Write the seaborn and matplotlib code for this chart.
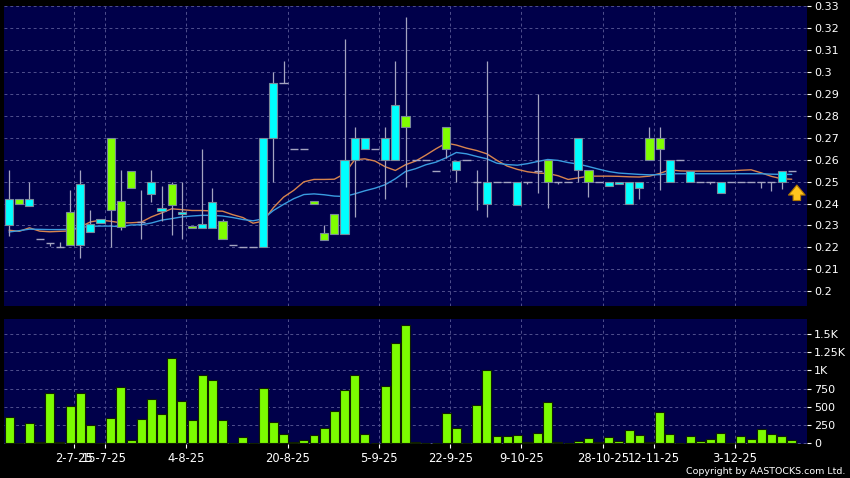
import numpy as np
import matplotlib
matplotlib.use("Agg")
import matplotlib.pyplot as plt
import seaborn as sns

# ---- values (one entry per trading session) ----
opens = [0.230, 0.242, 0.239, 0.224, 0.222, 0.220, 0.236, 0.221, 0.227, 0.231,
         0.270, 0.241, 0.255, 0.2315, 0.2442, 0.2368, 0.2488, 0.235, 0.2298, 0.229,
         0.229, 0.232, 0.221, 0.220, 0.220, 0.220, 0.270, 0.295, 0.265, 0.265,
         0.2412, 0.2267, 0.2351, 0.226, 0.260, 0.265, 0.265, 0.260, 0.260, 0.280,
         0.260, 0.260, 0.255, 0.275, 0.2552, 0.260, 0.250, 0.240, 0.250, 0.250,
         0.2394, 0.250, 0.255, 0.260, 0.250, 0.250, 0.2552, 0.2552, 0.250, 0.2478,
         0.2488, 0.240, 0.247, 0.270, 0.270, 0.250, 0.260, 0.250, 0.250, 0.250,
         0.245, 0.250, 0.250, 0.250, 0.250, 0.250, 0.250, 0.255]
closes = [0.242, 0.240, 0.242, 0.224, 0.222, 0.220, 0.221, 0.249, 0.2307, 0.2328,
          0.237, 0.2293, 0.247, 0.2315, 0.250, 0.2378, 0.2393, 0.236, 0.229, 0.2308,
          0.2408, 0.224, 0.221, 0.220, 0.220, 0.270, 0.295, 0.295, 0.265, 0.265,
          0.240, 0.2234, 0.226, 0.260, 0.270, 0.270, 0.265, 0.270, 0.285, 0.275,
          0.260, 0.260, 0.255, 0.265, 0.2594, 0.260, 0.250, 0.250, 0.250, 0.250,
          0.250, 0.250, 0.255, 0.250, 0.250, 0.250, 0.270, 0.250, 0.250, 0.250,
          0.250, 0.250, 0.250, 0.260, 0.265, 0.260, 0.260, 0.255, 0.250, 0.250,
          0.250, 0.250, 0.250, 0.250, 0.250, 0.250, 0.255, 0.255]
highs = [0.2553, 0.242, 0.250, 0.224, 0.222, 0.2222, 0.246, 0.2553, 0.237, 0.2328,
         0.270, 0.2553, 0.255, 0.246, 0.2553, 0.248, 0.250, 0.250, 0.2298, 0.2648,
         0.247, 0.2328, 0.221, 0.220, 0.220, 0.270, 0.300, 0.305, 0.265, 0.265,
         0.2412, 0.2302, 0.2351, 0.315, 0.275, 0.270, 0.265, 0.275, 0.305, 0.325,
         0.260, 0.260, 0.255, 0.275, 0.2594, 0.260, 0.2553, 0.305, 0.250, 0.250,
         0.250, 0.250, 0.290, 0.260, 0.250, 0.250, 0.270, 0.2552, 0.250, 0.250,
         0.250, 0.250, 0.250, 0.275, 0.275, 0.260, 0.260, 0.255, 0.250, 0.250,
         0.250, 0.250, 0.250, 0.250, 0.250, 0.250, 0.255, 0.255]
lows = [0.225, 0.240, 0.239, 0.224, 0.2206, 0.220, 0.221, 0.215, 0.227, 0.231,
        0.220, 0.228, 0.247, 0.224, 0.2409, 0.232, 0.2258, 0.224, 0.229, 0.229,
        0.229, 0.224, 0.221, 0.220, 0.220, 0.220, 0.250, 0.295, 0.265, 0.265,
        0.240, 0.2234, 0.226, 0.226, 0.234, 0.265, 0.265, 0.242, 0.260, 0.2477,
        0.260, 0.260, 0.255, 0.2606, 0.250, 0.260, 0.237, 0.234, 0.250, 0.250,
        0.2394, 0.2488, 0.245, 0.2378, 0.249, 0.250, 0.250, 0.243, 0.250, 0.2478,
        0.2488, 0.240, 0.242, 0.260, 0.246, 0.250, 0.260, 0.250, 0.250, 0.2488,
        0.245, 0.250, 0.250, 0.250, 0.247, 0.2457, 0.2467, 0.255]
ma_short = [0.2278, 0.2273, 0.2289, 0.2274, 0.2271, 0.2273, 0.2275, 0.2293, 0.2316, 0.2324,
            0.2319, 0.2312, 0.2312, 0.2315, 0.2339, 0.2357, 0.2376, 0.2372, 0.2368, 0.2368,
            0.2366, 0.2365, 0.2349, 0.2336, 0.2310, 0.2320, 0.2381, 0.2429, 0.2460, 0.2499,
            0.2510, 0.2510, 0.2511, 0.2536, 0.2600, 0.2604, 0.2594, 0.2568, 0.2551, 0.2577,
            0.2594, 0.2621, 0.2650, 0.2676, 0.2667, 0.2653, 0.2642, 0.2627, 0.2597, 0.2571,
            0.2556, 0.2545, 0.2539, 0.2537, 0.2527, 0.2510, 0.2517, 0.2525, 0.2525, 0.2525,
            0.2524, 0.2522, 0.2521, 0.2525, 0.2537, 0.2554, 0.2549, 0.2548, 0.2548, 0.2548,
            0.2548, 0.2549, 0.2552, 0.2554, 0.2540, 0.2524, 0.2513, 0.2511]
ma_long = [0.2270, 0.2276, 0.2283, 0.2282, 0.2281, 0.2281, 0.2282, 0.2290, 0.2296, 0.2297,
           0.2297, 0.2294, 0.2302, 0.2303, 0.2311, 0.2324, 0.2331, 0.2339, 0.2343, 0.2346,
           0.2346, 0.2343, 0.2336, 0.2327, 0.2321, 0.2330, 0.2368, 0.2396, 0.2422, 0.2441,
           0.2444, 0.2440, 0.2434, 0.2432, 0.2444, 0.2458, 0.2470, 0.2486, 0.2513, 0.2546,
           0.2559, 0.2577, 0.2589, 0.2609, 0.2633, 0.2627, 0.2615, 0.2604, 0.2584, 0.2578,
           0.2575, 0.2582, 0.2592, 0.2601, 0.2597, 0.2587, 0.2580, 0.2569, 0.2557, 0.2546,
           0.2539, 0.2536, 0.2533, 0.2531, 0.2532, 0.2536, 0.2536, 0.2536, 0.2536, 0.2536,
           0.2536, 0.2536, 0.2536, 0.2536, 0.2536, 0.2534, 0.2533, 0.2533]
volumes = [362, 0, 284, 23, 693, 14, 505, 688, 252, 0,
           349, 766, 41, 335, 601, 399, 1165, 578, 317, 940,
           862, 317, 9, 87, 0, 757, 294, 128, 14, 46,
           115, 211, 445, 734, 940, 133, 0, 789, 1372, 1624,
           14, 0, 0, 413, 216, 0, 523, 1009, 96, 96,
           115, 12, 138, 564, 12, 0, 37, 69, 14, 87,
           28, 183, 110, 12, 427, 124, 0, 101, 28, 64,
           138, 3, 105, 60, 193, 124, 105, 46]

date_labels = ["2-7-25", "15-7-25", "4-8-25", "20-8-25", "5-9-25",
               "22-9-25", "9-10-25", "28-10-25", "12-11-25", "3-12-25"]
date_index = [6, 9, 17, 27, 36, 43, 50, 58, 63, 71]
price_ticks = [0.20, 0.21, 0.22, 0.23, 0.24, 0.25, 0.26, 0.27, 0.28, 0.29, 0.30, 0.31, 0.32, 0.33]
price_labels = ["0.2", "0.21", "0.22", "0.23", "0.24", "0.25", "0.26", "0.27",
                "0.28", "0.29", "0.3", "0.31", "0.32", "0.33"]
vol_ticks = [0, 250, 500, 750, 1000, 1250, 1500]
vol_labels = ["0", "250", "500", "750", "1K", "1.25K", "1.5K"]

# ---- styling ----
sns.set_theme(style="dark")
plt.rcParams['font.family'] = ['DejaVu Sans']

NAVY = '#00004a'
GRID = '#50508e'
UP = '#00ffff'
DOWN = '#80ff00'
WICK = '#a4a4c0'

o = np.array(opens); c = np.array(closes)
h = np.array(highs); l = np.array(lows)
idx = np.arange(len(o))
tick_pos = np.array(date_index) + 0.4

fig = plt.figure(figsize=(8.5, 4.78), dpi=100, facecolor='black')
ax = fig.add_axes([4 / 850, 1 - 306 / 478, 803 / 850, 300 / 478])
axv = fig.add_axes([4 / 850, 1 - 444 / 478, 803 / 850, 125.5 / 478])

for a in (ax, axv):
    a.set_facecolor(NAVY)
    for s in a.spines.values():
        s.set_visible(False)
    a.grid(True, color=GRID, linestyle=(0, (3, 3)), linewidth=0.7)
    a.set_axisbelow(True)

# moving averages (behind candles)
sns.lineplot(x=idx, y=ma_short, ax=ax, color='#d8844e', linewidth=1.0, zorder=2)
sns.lineplot(x=idx, y=ma_long, ax=ax, color='#3a9ce0', linewidth=1.0, zorder=2)

# candles
ax.vlines(idx, l, h, color=WICK, linewidth=0.9, zorder=3)
body = c != o
cols = np.where(c > o, UP, DOWN)
ax.bar(idx[body], (c - o)[body], bottom=o[body], width=0.8,
       color=cols[body], edgecolor='#7a8a9a', linewidth=0.8, zorder=4)
ax.hlines(c[~body], idx[~body] - 0.4, idx[~body] + 0.4, color=WICK,
          linewidth=1.0, zorder=4)

# latest-price arrow
ax.annotate('', xy=(77.5, 0.2497), xytext=(77.5, 0.2401),
            arrowprops=dict(arrowstyle='simple,head_length=0.6,head_width=1.0,tail_width=0.45',
                            fc='#ffc41e', ec='#b07800', lw=0.8), zorder=6)

ax.set_xlim(-0.5, 78.5)
ax.set_ylim(0.1932, 0.3302)
ax.set_xticks(tick_pos)
ax.set_xticklabels([])
ax.tick_params(axis='x', length=0)
ax.yaxis.tick_right()
ax.set_yticks(price_ticks)
ax.set_yticklabels(price_labels)
ax.tick_params(axis='y', colors='white', labelsize=8, length=3, width=0.8, pad=2,
               direction='out', right=True, left=False)
ax.set_xlabel(''); ax.set_ylabel('')

# volume
sns.barplot(x=idx, y=volumes, ax=axv, native_scale=True, width=0.88,
            color='#7cfc00', saturation=1, edgecolor='#102000', linewidth=0.8,
            errorbar=None, zorder=3)
axv.set_xlim(-0.5, 78.5)
axv.set_ylim(-10, 1713)
axv.yaxis.tick_right()
axv.set_yticks(vol_ticks)
axv.set_yticklabels(vol_labels)
axv.tick_params(axis='y', colors='white', labelsize=8, length=3, width=0.8, pad=2,
                direction='out', right=True, left=False)
axv.set_xticks(tick_pos)
axv.set_xticklabels(date_labels)
axv.tick_params(axis='x', colors='white', labelsize=8.3, length=3, width=0.8, pad=3,
                direction='out', bottom=True)
axv.set_xlabel(''); axv.set_ylabel('')

fig.text(845 / 850, 1 - 471 / 478, 'Copyright by AASTOCKS.com Ltd.', color='white',
         fontsize=6.8, ha='right', va='center')

fig.savefig('out.png', dpi=100, facecolor='black')
